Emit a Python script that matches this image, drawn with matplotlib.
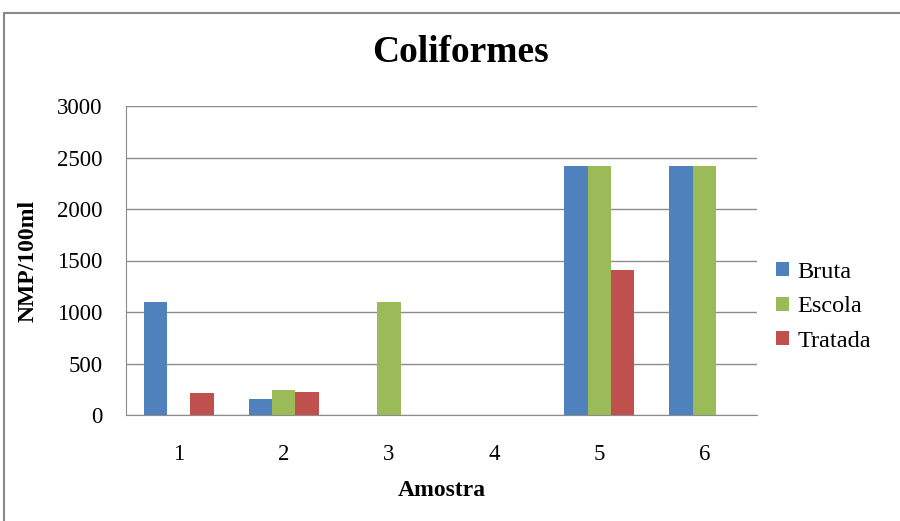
import numpy as np
import matplotlib.pyplot as plt
from matplotlib.patches import Rectangle

# coliform counts per sample (NMP/100ml)
amostras = ["1", "2", "3", "4", "5", "6"]
bruta = [1100, 160, 0, 0, 2420, 2420]
escola = [0, 240, 1100, 0, 2420, 2420]
tratada = [210, 220, 0, 0, 1410, 0]

plt.rcParams['font.family'] = ['Liberation Serif', 'DejaVu Serif']

fig = plt.figure(figsize=(9, 5.21), dpi=100)
# frame of the chart area (only left/top edges fall inside the image)
fig.patches.append(Rectangle((4 / 900, -0.1), 1.2, 1 - 13 / 521 + 0.1,
                             transform=fig.transFigure, fill=False,
                             edgecolor='#888888', linewidth=1.5))

ax = fig.add_axes([126 / 900, 1 - 415 / 521, (757 - 126) / 900, (415 - 106) / 521])

x = np.arange(len(amostras))
w = 1 / 4.5
ax.bar(x - w, bruta, w, color='#4F81BD', label='Bruta')
ax.bar(x, escola, w, color='#9BBB59', label='Escola')
ax.bar(x + w, tratada, w, color='#C0504D', label='Tratada')

ax.set_xlim(-0.5, len(amostras) - 0.5)
ax.set_ylim(0, 3000)
ax.set_yticks(np.arange(0, 3001, 500))
ax.set_xticks(x)
ax.set_xticklabels(amostras)
ax.tick_params(length=0, labelsize=16.5)
ax.tick_params(axis='y', pad=17)
ax.tick_params(axis='x', pad=21)
ax.yaxis.grid(True, color='#8c8c8c', linewidth=1)
ax.set_axisbelow(True)
for s in ['top', 'right']:
    ax.spines[s].set_visible(False)
for s in ['left', 'bottom']:
    ax.spines[s].set_color('#8c8c8c')

ax.set_xlabel('Amostra', fontsize=17, fontweight='bold', labelpad=11)
ax.set_ylabel('NMP/100ml', fontsize=17, fontweight='bold', labelpad=13)
fig.text(460 / 900, 1 - 53 / 521, 'Coliformes', fontsize=27, fontweight='bold',
         ha='center', va='center')

ax.legend(loc='center left', bbox_to_anchor=(1.0, 0.35), frameon=False,
          fontsize=17.5, handlelength=0.5, handleheight=0.5, handletextpad=0.35,
          labelspacing=0.55, borderaxespad=0.4)

fig.savefig('out.png', dpi=100)
